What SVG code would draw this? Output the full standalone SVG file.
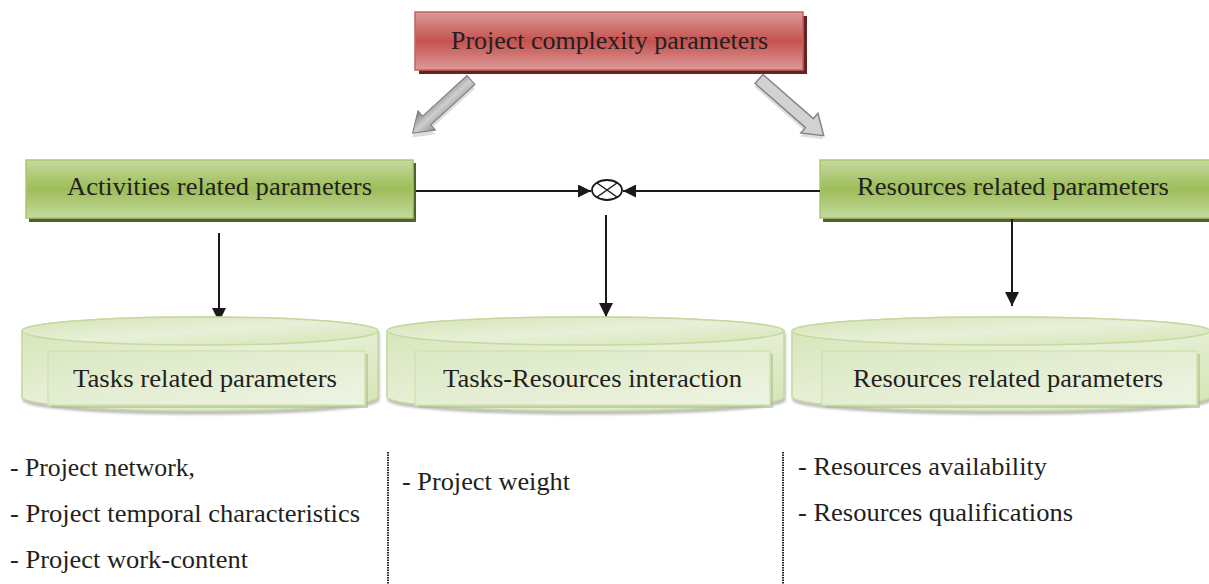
<svg xmlns="http://www.w3.org/2000/svg" width="1209" height="584" viewBox="0 0 1209 584">
<style>
.t{font-family:"Liberation Serif","Times New Roman",serif;font-size:25px;fill:#231f20}
.c{text-anchor:middle}
.dot{stroke:#222;stroke-width:2;stroke-dasharray:1.5 1;fill:none}
.con{stroke:#1a1a1a;stroke-width:2;fill:none}
.cyl{fill:url(#cylG);stroke:#c6d9a0;stroke-width:1.5}
.inr{fill:url(#inG);stroke:#d2e2b4;stroke-width:1.5}
</style>
<defs>
<linearGradient id="redG" x1="0" y1="0" x2="0" y2="1">
<stop offset="0" stop-color="#dc9a99"/><stop offset="0.5" stop-color="#c4524f"/><stop offset="1" stop-color="#dc9a99"/>
</linearGradient>
<linearGradient id="grnG" x1="0" y1="0" x2="0" y2="1">
<stop offset="0" stop-color="#c5d9a0"/><stop offset="0.5" stop-color="#9dbd58"/><stop offset="1" stop-color="#c5d9a0"/>
</linearGradient>
<linearGradient id="cylG" x1="0" y1="0" x2="1" y2="1">
<stop offset="0" stop-color="#d4e4b4"/><stop offset="0.5" stop-color="#e8f0d8"/><stop offset="1" stop-color="#d4e4b4"/>
</linearGradient>
<linearGradient id="inG" x1="0" y1="0" x2="1" y2="1">
<stop offset="0" stop-color="#dbe8c3"/><stop offset="1" stop-color="#eef4e3"/>
</linearGradient>
<linearGradient id="grayD" x1="0" y1="0" x2="0" y2="1">
<stop offset="0" stop-color="#8f8f8f"/><stop offset="0.5" stop-color="#cfcfcf"/><stop offset="1" stop-color="#808080"/>
</linearGradient>
<marker id="ah" viewBox="0 0 12 12" refX="12" refY="6" markerWidth="13" markerHeight="13" markerUnits="userSpaceOnUse" orient="auto">
<path d="M0,0 L12,6 L0,12 Z" fill="#1a1a1a"/>
</marker>
<marker id="av" viewBox="0 0 14 16" refX="14" refY="8" markerWidth="15" markerHeight="16" markerUnits="userSpaceOnUse" orient="auto">
<path d="M0,1 L14,8 L0,15 Z" fill="#1a1a1a"/>
</marker>
</defs>

<g id="node-top">
<rect x="419" y="16" width="388" height="58" fill="#632523"/>
<rect x="415" y="12" width="388" height="58" fill="url(#redG)" stroke="#c8605d" stroke-width="1.5"/>
<text class="t" x="451" y="49" textLength="317" lengthAdjust="spacingAndGlyphs">Project complexity parameters</text>
</g>

<g id="block-arrows">
<g transform="translate(471,80) rotate(137.6)">
<polygon points="0,-6 60,-6 60,-13 79,0 60,13 60,6 0,6" fill="#bdbdbd" transform="translate(3,-3)" opacity="0.5"/>
<polygon points="0,-6 60,-6 60,-13 79,0 60,13 60,6 0,6" fill="url(#grayD)" stroke="#7d7d7d" stroke-width="1"/>
</g>
<g transform="translate(759,79) rotate(41.2)">
<polygon points="0,-6 67,-6 67,-13 86,0 67,13 67,6 0,6" fill="#bdbdbd" transform="translate(2,3)" opacity="0.5"/>
<polygon points="0,-6 67,-6 67,-13 86,0 67,13 67,6 0,6" fill="#d2d2d2" stroke="#858585" stroke-width="1.5"/>
</g>
</g>

<g id="node-activities">
<rect x="29" y="163" width="387" height="59" fill="#4f6228"/>
<rect x="26" y="160" width="387" height="58" fill="url(#grnG)" stroke="#a9c86e" stroke-width="1.5"/>
<text class="t" x="67" y="195" textLength="305" lengthAdjust="spacingAndGlyphs">Activities related parameters</text>
</g>

<g id="node-resources">
<rect x="823" y="163" width="390" height="59" fill="#4f6228"/>
<rect x="820" y="160" width="390" height="58" fill="url(#grnG)" stroke="#a9c86e" stroke-width="1.5"/>
<text class="t" x="857" y="195" textLength="312" lengthAdjust="spacingAndGlyphs">Resources related parameters</text>
</g>

<g id="node-junction">
<ellipse cx="607" cy="190" rx="15" ry="10" fill="#fff" stroke="#1a1a1a" stroke-width="1.8"/>
<path d="M597,183 L617,197 M597,197 L617,183" stroke="#1a1a1a" stroke-width="1.5"/>
</g>

<g id="connectors">
<line class="con" x1="416" y1="191" x2="591" y2="191" marker-end="url(#ah)"/>
<line class="con" x1="820" y1="191" x2="623" y2="191" marker-end="url(#ah)"/>
<line class="con" x1="606" y1="215" x2="606" y2="317" marker-end="url(#av)"/>
<line class="con" x1="219" y1="233" x2="219" y2="322" marker-end="url(#av)"/>
<line class="con" x1="1012" y1="219" x2="1012" y2="306" marker-end="url(#av)"/>
</g>

<g id="node-tasks">
<path class="cyl" d="M22,331 L22,397 A178,14 0 0 0 378,397 L378,331 A178,14 0 0 0 22,331 Z" style="filter:drop-shadow(1px 3px 1px rgba(0,0,0,0.25))"/>
<ellipse class="cyl" cx="200" cy="331" rx="178" ry="14"/>
<rect x="51" y="354" width="317" height="54" fill="#a9bf86" opacity="0.6"/>
<rect class="inr" x="48" y="351" width="317" height="54"/>
<text class="t" x="73" y="387" textLength="264" lengthAdjust="spacingAndGlyphs">Tasks related parameters</text>
</g>

<g id="node-interaction">
<path class="cyl" d="M387,331 L387,397 A198.5,14 0 0 0 784,397 L784,331 A198.5,14 0 0 0 387,331 Z" style="filter:drop-shadow(1px 3px 1px rgba(0,0,0,0.25))"/>
<ellipse class="cyl" cx="585.5" cy="331" rx="198.5" ry="14"/>
<rect x="418" y="354" width="355" height="54" fill="#a9bf86" opacity="0.6"/>
<rect class="inr" x="415" y="351" width="355" height="54"/>
<text class="t" x="443" y="387" textLength="299" lengthAdjust="spacingAndGlyphs">Tasks-Resources interaction</text>
</g>

<g id="node-resparams">
<path class="cyl" d="M792,331 L792,397 A209,14 0 0 0 1210,397 L1210,331 A209,14 0 0 0 792,331 Z" style="filter:drop-shadow(1px 3px 1px rgba(0,0,0,0.25))"/>
<ellipse class="cyl" cx="1001" cy="331" rx="209" ry="14"/>
<rect x="825" y="354" width="375" height="54" fill="#a9bf86" opacity="0.6"/>
<rect class="inr" x="822" y="351" width="375" height="54"/>
<text class="t" x="853" y="387" textLength="310" lengthAdjust="spacingAndGlyphs">Resources related parameters</text>
</g>

<g id="lists">
<line class="dot" x1="388" y1="452" x2="388" y2="584"/>
<line class="dot" x1="783" y1="452" x2="783" y2="584"/>
<text class="t" x="10" y="476" textLength="185" lengthAdjust="spacingAndGlyphs">- Project network,</text>
<text class="t" x="10" y="522" textLength="350" lengthAdjust="spacingAndGlyphs">- Project temporal characteristics</text>
<text class="t" x="10" y="568" textLength="238" lengthAdjust="spacingAndGlyphs">- Project work-content</text>
<text class="t" x="402" y="490" textLength="168" lengthAdjust="spacingAndGlyphs">- Project weight</text>
<text class="t" x="798" y="475" textLength="249" lengthAdjust="spacingAndGlyphs">- Resources availability</text>
<text class="t" x="798" y="521" textLength="275" lengthAdjust="spacingAndGlyphs">- Resources qualifications</text>
</g>
</svg>
